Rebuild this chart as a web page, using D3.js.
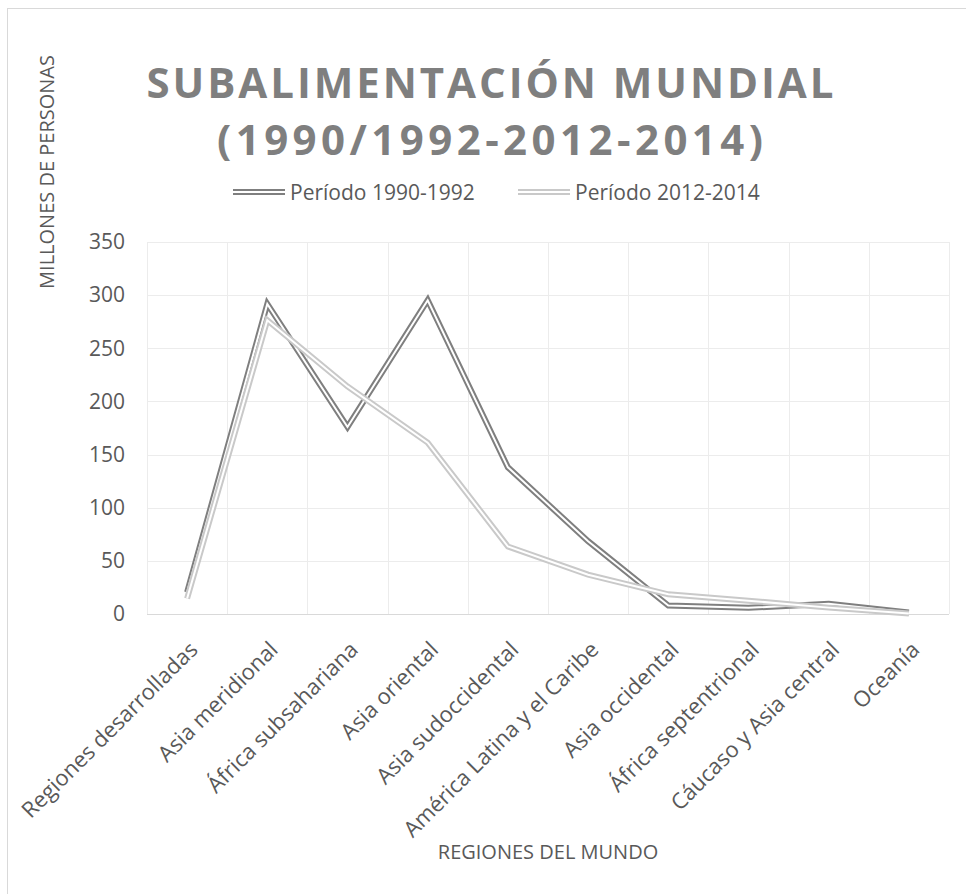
<!DOCTYPE html>
<html>
<head>
<meta charset="utf-8">
<script src="https://cdn.jsdelivr.net/npm/d3@7"></script>
<style>
  body { margin: 0; background: #fff; }
  text { font-family: "Open Sans", sans-serif; fill: #595959; }
  .title { font-weight: bold; fill: #7f7f7f; }
</style>
</head>
<body>
<div class="svg-container"></div>
<script>
var width = 966;
var height = 894;

// datos (millones de personas)
var regiones = ["Regiones desarrolladas", "Asia meridional", "África subsahariana",
                "Asia oriental", "Asia sudoccidental", "América Latina y el Caribe",
                "Asia occidental", "África septentrional", "Cáucaso y Asia central", "Oceanía"];
var periodo1990 = [20.4, 291.7, 176.0, 295.2, 138.0, 68.5, 8.0, 5.8, 9.6, 1.5];
var periodo2012 = [14.6, 276.4, 214.1, 161.2, 63.5, 37.0, 18.5, 12.5, 6.0, 0.5];
var series = ["Período 1990-1992", "Período 2012-2014"];
var yTicks = [0, 50, 100, 150, 200, 250, 300, 350];

var colors = ["#7f7f7f", "#c9c9c9"];

var svg = d3.select(".svg-container")
              .append("svg")
              .attr("width", width)
              .attr("height", height);

// borde del area del grafico
svg.append("rect")
    .attr("x", 7.5)
    .attr("y", 8.5)
    .attr("width", 1000)
    .attr("height", 1000)
    .attr("fill", "none")
    .attr("stroke", "#d9d9d9");

var scaleX = d3.scaleBand()
                .domain(regiones)
                .range([147, 949])
                .padding(0);

var scaleY = d3.scaleLinear()
                .domain([0, 350])
                .range([614, 242]);

drawGrid();
yAxis();
xAxis();

drawLine(periodo1990, colors[0]);
drawLine(periodo2012, colors[1]);

chartTitle();
legend();
axisLabels();

function drawGrid() {
    // horizontales
    svg.append("g")
        .selectAll("line")
        .data(yTicks)
        .enter()
        .append("line")
        .attr("x1", 147)
        .attr("x2", 949)
        .attr("y1", function(d) { return Math.round(scaleY(d)) + 0.5 })
        .attr("y2", function(d) { return Math.round(scaleY(d)) + 0.5 })
        .attr("stroke", function(d) { return d == 0 ? "#d9d9d9" : "#ececec" })
        .attr("stroke-width", 1);

    // verticales, entre categorias
    var edges = regiones.map(function(d) { return scaleX(d) }).concat([scaleX.range()[1]]);
    svg.append("g")
        .selectAll("line")
        .data(edges)
        .enter()
        .append("line")
        .attr("x1", function(d) { return Math.round(d) + 0.5 })
        .attr("x2", function(d) { return Math.round(d) + 0.5 })
        .attr("y1", scaleY(350))
        .attr("y2", scaleY(0))
        .attr("stroke", "#ececec")
        .attr("stroke-width", 1);
};

function yAxis() {
    var g = svg.append("g")
        .attr("transform", "translate(125,0)")
        .call(d3.axisLeft(scaleY).tickValues(yTicks).tickSize(0).tickPadding(0));
    g.select(".domain").remove();
    g.selectAll("text")
        .attr("fill", "#595959")
        .style("font-size", "21px")
        .style("font-family", "Open Sans, sans-serif");
};

function xAxis() {
    svg.append("g")
        .selectAll("text")
        .data(regiones)
        .enter()
        .append("text")
        .attr("transform", function(d) {
            return "translate(" + (scaleX(d) + scaleX.bandwidth() / 2 + 12) + ",651) rotate(-45)";
        })
        .attr("text-anchor", "end")
        .style("font-size", "22px")
        .text(function(d) { return d });
};

// linea doble (estilo compuesto de Excel)
function drawLine(values, color) {
    var line = d3.line()
                  .x(function(d, i) { return scaleX(regiones[i]) + scaleX.bandwidth() / 2 })
                  .y(function(d) { return scaleY(d) });

    var g = svg.append("g");
    g.append("path")
        .datum(values)
        .attr("fill", "none")
        .attr("stroke", color)
        .attr("stroke-width", 6)
        .attr("stroke-linejoin", "miter")
        .attr("d", line);
    g.append("path")
        .datum(values)
        .attr("fill", "none")
        .attr("stroke", "#fff")
        .attr("stroke-width", 2)
        .attr("stroke-linejoin", "miter")
        .attr("d", line);
};

function chartTitle() {
    svg.append("text")
        .attr("class", "title")
        .attr("x", 490)
        .attr("y", 98)
        .attr("text-anchor", "middle")
        .attr("textLength", 687)
        .attr("lengthAdjust", "spacing")
        .style("font-size", "42px")
        .text("SUBALIMENTACIÓN MUNDIAL");

    svg.append("text")
        .attr("class", "title")
        .attr("x", 490)
        .attr("y", 155)
        .attr("text-anchor", "middle")
        .attr("textLength", 546)
        .attr("lengthAdjust", "spacing")
        .style("font-size", "42px")
        .text("(1990/1992-2012-2014)");
};

function legend() {
    var items = [{ name: series[0], color: colors[0], x: 233 },
                 { name: series[1], color: colors[1], x: 518 }];

    var g = svg.append("g")
        .selectAll("g")
        .data(items)
        .enter()
        .append("g")
        .attr("transform", function(d) { return "translate(" + d.x + ",192)" });

    g.append("line")
        .attr("x1", 0).attr("x2", 52)
        .attr("stroke", function(d) { return d.color })
        .attr("stroke-width", 6);
    g.append("line")
        .attr("x1", 0).attr("x2", 52)
        .attr("stroke", "#fff")
        .attr("stroke-width", 2);
    g.append("text")
        .attr("x", 57)
        .attr("y", 8)
        .style("font-size", "21px")
        .text(function(d) { return d.name });
};

function axisLabels() {
    svg.append("text")
        .attr("transform", "rotate(270)")
        .attr("x", -172)
        .attr("y", 54)
        .attr("text-anchor", "middle")
        .style("font-size", "20px")
        .text("MILLONES DE PERSONAS");

    svg.append("text")
        .attr("x", 548)
        .attr("y", 859)
        .attr("text-anchor", "middle")
        .style("font-size", "20px")
        .text("REGIONES DEL MUNDO");
};
</script>
</body>
</html>
